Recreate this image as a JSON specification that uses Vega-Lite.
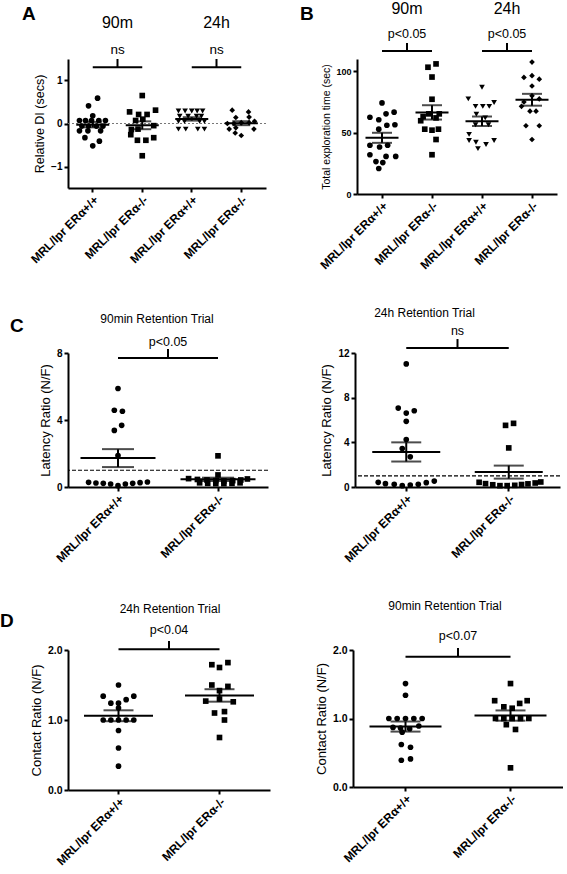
{
"$schema":"https://vega.github.io/schema/vega-lite/v6.json",
"background":"white",
"padding":{"left":0,"top":0,"right":0,"bottom":0},
"config":{"font":"Liberation Sans","view":{"stroke":null},
 "axis":{"domainColor":"black","domainWidth":2,"tickColor":"black","tickWidth":2,"tickSize":4,"labelColor":"black","labelFontWeight":"bold","labelFontSize":10,"titleColor":"black","titleFontWeight":"normal","titleFontSize":12.5,"grid":false,"labelPadding":2,"titlePadding":4},
 "axisX":{"labelAngle":-45,"labelFontSize":12,"title":null},
 "text":{"color":"black","font":"Liberation Sans"}},
"datasets":{
"A":[
{"g":"90_wt","v":0.59,"s":0.8},{"g":"90_wt","v":0.41,"s":-0.7},{"g":"90_wt","v":0.18,"s":0},
{"g":"90_wt","v":0.07,"s":-2.2},{"g":"90_wt","v":0.07,"s":-1.2},{"g":"90_wt","v":0.07,"s":-0.2},{"g":"90_wt","v":0.07,"s":1},{"g":"90_wt","v":0.07,"s":2.1},
{"g":"90_wt","v":-0.06,"s":-1.8},{"g":"90_wt","v":-0.06,"s":-0.7},{"g":"90_wt","v":-0.06,"s":0.6},{"g":"90_wt","v":-0.06,"s":1.7},
{"g":"90_wt","v":-0.17,"s":-2.2},{"g":"90_wt","v":-0.17,"s":-0.8},{"g":"90_wt","v":-0.17,"s":1.3},
{"g":"90_wt","v":-0.33,"s":-1.3},{"g":"90_wt","v":-0.41,"s":1.1},{"g":"90_wt","v":-0.52,"s":0},
{"g":"90_ko","v":0.65,"s":0},{"g":"90_ko","v":0.27,"s":-2.1},{"g":"90_ko","v":0.31,"s":2.2},{"g":"90_ko","v":0.21,"s":-0.6},{"g":"90_ko","v":0.21,"s":0.8},
{"g":"90_ko","v":0.07,"s":-1.1},{"g":"90_ko","v":0.1,"s":0.1},{"g":"90_ko","v":-0.05,"s":1.9},{"g":"90_ko","v":-0.14,"s":-1.8},{"g":"90_ko","v":-0.13,"s":-0.7},
{"g":"90_ko","v":-0.26,"s":-1.9},{"g":"90_ko","v":-0.33,"s":1.9},{"g":"90_ko","v":-0.39,"s":-0.8},{"g":"90_ko","v":-0.39,"s":0.6},{"g":"90_ko","v":-0.75,"s":0},
{"g":"24_wt","v":0.29,"s":-2.2},{"g":"24_wt","v":0.29,"s":-1.1},{"g":"24_wt","v":0.29,"s":0},{"g":"24_wt","v":0.29,"s":0.9},{"g":"24_wt","v":0.29,"s":1.8},
{"g":"24_wt","v":0.17,"s":-2},{"g":"24_wt","v":0.17,"s":-0.6},{"g":"24_wt","v":0.17,"s":0.8},{"g":"24_wt","v":0.17,"s":1.6},
{"g":"24_wt","v":0.05,"s":-2.2},{"g":"24_wt","v":0.05,"s":-1.2},{"g":"24_wt","v":0.05,"s":1.3},{"g":"24_wt","v":0.05,"s":2.1},
{"g":"24_wt","v":-0.13,"s":-2.2},{"g":"24_wt","v":-0.13,"s":-1},{"g":"24_wt","v":-0.13,"s":1},{"g":"24_wt","v":-0.13,"s":2.1},
{"g":"24_ko","v":0.31,"s":-1.5},{"g":"24_ko","v":0.27,"s":1.2},{"g":"24_ko","v":0.14,"s":-0.9},{"g":"24_ko","v":0.15,"s":1.3},
{"g":"24_ko","v":0,"s":-2.3},{"g":"24_ko","v":0,"s":-1.2},{"g":"24_ko","v":0.02,"s":0},{"g":"24_ko","v":0.02,"s":1.3},{"g":"24_ko","v":0.05,"s":2.2},
{"g":"24_ko","v":-0.13,"s":-2},{"g":"24_ko","v":-0.1,"s":-0.9},{"g":"24_ko","v":-0.13,"s":2.1},{"g":"24_ko","v":-0.22,"s":-1},{"g":"24_ko","v":-0.28,"s":0}
],
"B":[
{"g":"90_wt","v":74.2,"s":0},{"g":"90_wt","v":62.5,"s":-1.5},{"g":"90_wt","v":60.5,"s":-0.4},{"g":"90_wt","v":65.3,"s":0.5},{"g":"90_wt","v":66.7,"s":1.5},
{"g":"90_wt","v":56,"s":0.6},{"g":"90_wt","v":56.4,"s":1.6},{"g":"90_wt","v":52.8,"s":-0.4},{"g":"90_wt","v":39.7,"s":-1.5},{"g":"90_wt","v":38.3,"s":-0.3},
{"g":"90_wt","v":39.7,"s":0.7},{"g":"90_wt","v":32,"s":-1.5},{"g":"90_wt","v":30.6,"s":0.5},{"g":"90_wt","v":30.6,"s":1.7},{"g":"90_wt","v":26.4,"s":-0.75},
{"g":"90_wt","v":25.6,"s":0.1},{"g":"90_wt","v":20.8,"s":-0.4},
{"g":"90_ko","v":103.3,"s":-0.5},{"g":"90_ko","v":106,"s":0.5},{"g":"90_ko","v":95.3,"s":0},{"g":"90_ko","v":77.2,"s":0},{"g":"90_ko","v":65.3,"s":-0.4},
{"g":"90_ko","v":65.3,"s":0.9},{"g":"90_ko","v":63,"s":-1.1},{"g":"90_ko","v":62,"s":0.5},{"g":"90_ko","v":59.7,"s":-1.4},{"g":"90_ko","v":52.8,"s":-0.9},
{"g":"90_ko","v":52.8,"s":0.8},{"g":"90_ko","v":52,"s":0},{"g":"90_ko","v":44.4,"s":0.5},{"g":"90_ko","v":32,"s":0},
{"g":"24_wt","v":87,"s":0},{"g":"24_wt","v":77.5,"s":-1.7},{"g":"24_wt","v":74.5,"s":1.5},{"g":"24_wt","v":71.4,"s":-0.8},{"g":"24_wt","v":71.4,"s":0.1},
{"g":"24_wt","v":71.4,"s":0.9},{"g":"24_wt","v":65,"s":-0.7},{"g":"24_wt","v":62,"s":0.4},{"g":"24_wt","v":56.4,"s":-0.8},{"g":"24_wt","v":56.4,"s":0.8},
{"g":"24_wt","v":48.6,"s":-1.6},{"g":"24_wt","v":43.6,"s":-1.6},{"g":"24_wt","v":42.2,"s":-0.75},{"g":"24_wt","v":40.3,"s":0.5},{"g":"24_wt","v":43.6,"s":1.5},
{"g":"24_wt","v":37,"s":-0.5},
{"g":"24_ko","v":107.5,"s":0},{"g":"24_ko","v":95,"s":-1},{"g":"24_ko","v":96.4,"s":0},{"g":"24_ko","v":93.6,"s":0.9},{"g":"24_ko","v":88,"s":0},
{"g":"24_ko","v":80,"s":0},{"g":"24_ko","v":77.5,"s":0.9},{"g":"24_ko","v":75,"s":-1},{"g":"24_ko","v":71.4,"s":-1.3},{"g":"24_ko","v":67.5,"s":-0.25},
{"g":"24_ko","v":67.5,"s":0.5},{"g":"24_ko","v":55.6,"s":-0.75},{"g":"24_ko","v":55.6,"s":0.9},{"g":"24_ko","v":44.4,"s":0}
],
"CL":[
{"g":"wt","v":5.88,"s":0},{"g":"wt","v":4.58,"s":-0.5},{"g":"wt","v":4.52,"s":0.6},{"g":"wt","v":3.68,"s":0.5},{"g":"wt","v":3.38,"s":-0.5},{"g":"wt","v":1.88,"s":0},
{"g":"wt","v":0.28,"s":-4},{"g":"wt","v":0.24,"s":-3},{"g":"wt","v":0.22,"s":-2},{"g":"wt","v":0.18,"s":-1},{"g":"wt","v":0.08,"s":0},{"g":"wt","v":0.18,"s":1},{"g":"wt","v":0.22,"s":2},{"g":"wt","v":0.26,"s":3},{"g":"wt","v":0.3,"s":4},
{"g":"ko","v":1.86,"s":0},{"g":"ko","v":0.72,"s":0},
{"g":"ko","v":0.5,"s":-4},{"g":"ko","v":0.45,"s":-2.8},{"g":"ko","v":0.42,"s":-1.5},{"g":"ko","v":0.38,"s":-0.3},{"g":"ko","v":0.36,"s":0.8},{"g":"ko","v":0.38,"s":2},{"g":"ko","v":0.42,"s":3.1},{"g":"ko","v":0.48,"s":4},
{"g":"ko","v":0.25,"s":-2.5},{"g":"ko","v":0.22,"s":-1.4},{"g":"ko","v":0.2,"s":-0.3},{"g":"ko","v":0.2,"s":0.8},{"g":"ko","v":0.22,"s":1.9},{"g":"ko","v":0.25,"s":3}
],
"CR":[
{"g":"wt","v":11.02,"s":0},{"g":"wt","v":7.07,"s":-1},{"g":"wt","v":6.62,"s":0},{"g":"wt","v":6.83,"s":1},{"g":"wt","v":5.88,"s":0},{"g":"wt","v":4.25,"s":0},{"g":"wt","v":3.44,"s":-0.5},{"g":"wt","v":2.7,"s":0.5},
{"g":"wt","v":0.42,"s":-3.5},{"g":"wt","v":0.3,"s":-2.6},{"g":"wt","v":0.24,"s":-1.5},{"g":"wt","v":0.12,"s":-0.5},{"g":"wt","v":0.18,"s":0.5},{"g":"wt","v":0.24,"s":1.5},{"g":"wt","v":0.39,"s":2.5},{"g":"wt","v":0.53,"s":3.5},
{"g":"ko","v":5.7,"s":0.6},{"g":"ko","v":5.52,"s":-0.4},{"g":"ko","v":3.5,"s":0},
{"g":"ko","v":0.42,"s":-3.7},{"g":"ko","v":0.3,"s":-2.9},{"g":"ko","v":0.2,"s":-2},{"g":"ko","v":0.12,"s":-1.1},{"g":"ko","v":0.12,"s":-0.2},{"g":"ko","v":0.15,"s":0.75},{"g":"ko","v":0.22,"s":1.6},{"g":"ko","v":0.28,"s":2.4},{"g":"ko","v":0.36,"s":3.3},{"g":"ko","v":0.45,"s":4}
],
"DL":[
{"g":"wt","v":1.5,"s":0},{"g":"wt","v":1.34,"s":-2},{"g":"wt","v":1.34,"s":2},{"g":"wt","v":1.29,"s":1},{"g":"wt","v":1.24,"s":-1},{"g":"wt","v":1.24,"s":0},{"g":"wt","v":1.17,"s":0},
{"g":"wt","v":1.0,"s":-2},{"g":"wt","v":1.0,"s":-1},{"g":"wt","v":1.0,"s":0},{"g":"wt","v":1.0,"s":1},{"g":"wt","v":1.0,"s":2},
{"g":"wt","v":0.85,"s":0},{"g":"wt","v":0.6,"s":0},{"g":"wt","v":0.34,"s":0},
{"g":"ko","v":1.82,"s":1.1},{"g":"ko","v":1.79,"s":-1},{"g":"ko","v":1.75,"s":0},{"g":"ko","v":1.5,"s":-1},{"g":"ko","v":1.48,"s":1.1},{"g":"ko","v":1.42,"s":0},
{"g":"ko","v":1.27,"s":-1.8},{"g":"ko","v":1.26,"s":1.8},{"g":"ko","v":1.3,"s":0},{"g":"ko","v":1.1,"s":-0.65},{"g":"ko","v":1.12,"s":0.65},{"g":"ko","v":1.0,"s":0.65},{"g":"ko","v":0.75,"s":0}
],
"DR":[
{"g":"wt","v":1.51,"s":0},{"g":"wt","v":1.34,"s":0},
{"g":"wt","v":1.0,"s":-2},{"g":"wt","v":1.0,"s":-1},{"g":"wt","v":1.0,"s":0},{"g":"wt","v":1.0,"s":1},{"g":"wt","v":1.0,"s":2},
{"g":"wt","v":0.87,"s":-1.5},{"g":"wt","v":0.86,"s":-0.6},{"g":"wt","v":0.85,"s":0.5},{"g":"wt","v":0.89,"s":1.6},{"g":"wt","v":0.8,"s":-0.4},
{"g":"wt","v":0.62,"s":-0.5},{"g":"wt","v":0.58,"s":0.6},{"g":"wt","v":0.39,"s":-0.5},{"g":"wt","v":0.41,"s":0.6},
{"g":"ko","v":1.51,"s":0},{"g":"ko","v":1.26,"s":-1.9},{"g":"ko","v":1.26,"s":2},{"g":"ko","v":1.17,"s":-0.8},{"g":"ko","v":1.15,"s":0.2},{"g":"ko","v":1.22,"s":1.1},
{"g":"ko","v":1.0,"s":-1.8},{"g":"ko","v":1.0,"s":-0.8},{"g":"ko","v":1.0,"s":0.2},{"g":"ko","v":1.0,"s":1.2},{"g":"ko","v":1.0,"s":2.2},
{"g":"ko","v":0.91,"s":-0.5},{"g":"ko","v":0.84,"s":0.6},{"g":"ko","v":0.28,"s":0}
]
},
"spacing":36,
"resolve":{"scale":{"x":"independent","y":"independent","xOffset":"independent","shape":"independent"}},
"vconcat":[
{"hconcat":[
 {"width":198,"height":129,
  "layer":[
   {"data":{"values":[{}]},"mark":{"type":"rule","color":"#777777","strokeDash":[2,2],"strokeWidth":1},"encoding":{"y":{"datum":0,"type":"quantitative"}}},
   {"data":{"name":"A"},"mark":{"type":"point","filled":true,"size":32,"opacity":1,"color":"black"},
    "encoding":{
     "x":{"field":"g","type":"nominal","scale":{"domain":["90_wt","90_ko","24_wt","24_ko"],"paddingInner":0,"paddingOuter":0},"axis":{"title":null,"labelExpr":"indexof(datum.value,'wt')>=0 ? 'MRL/lpr ERα+/+' : 'MRL/lpr ERα-/-'"}},
     "xOffset":{"field":"s","type":"quantitative","scale":{"domain":[-4.1,4.1],"range":[0,49.5]}},
     "y":{"field":"v","type":"quantitative","scale":{"domain":[-1.5,1.5],"nice":false,"zero":false},"axis":{"title":"Relative DI (secs)","values":[-1,0,1]}},
     "shape":{"field":"g","type":"nominal","scale":{"domain":["90_wt","90_ko","24_wt","24_ko"],"range":["circle","square","triangle-down","diamond"]},"legend":null}}},
   {"data":{"name":"A"},"mark":{"type":"errorbar","extent":"stderr","ticks":true,"size":18,"thickness":2,"color":"black"},"encoding":{"x":{"field":"g","type":"nominal"},"y":{"field":"v","type":"quantitative","title":"Relative DI (secs)"}}},
   {"data":{"name":"A"},"mark":{"type":"tick","size":33,"thickness":2,"color":"black"},"encoding":{"x":{"field":"g","type":"nominal"},"y":{"aggregate":"mean","field":"v","type":"quantitative","title":"Relative DI (secs)"}}},
   {"data":{"values":[{"k":"90","g":"90_wt"},{"k":"90","g":"90_ko"},{"k":"24","g":"24_wt"},{"k":"24","g":"24_ko"}]},
    "mark":{"type":"line","strokeWidth":2,"color":"black"},"encoding":{"x":{"field":"g","type":"nominal"},"y":{"datum":1.31},"detail":{"field":"k"}}},
   {"data":{"values":[{"g":"90_ko","t":"ns","grp":"90m"},{"g":"24_ko","t":"ns","grp":"24h"}]},
    "layer":[
     {"mark":{"type":"rule","strokeWidth":2,"color":"black"},"encoding":{"x":{"field":"g","type":"nominal"},"xOffset":{"datum":-4.1},"y":{"datum":1.31},"y2":{"datum":1.5}}},
     {"mark":{"type":"text","fontSize":13.5},"encoding":{"x":{"field":"g","type":"nominal"},"xOffset":{"datum":-4.1},"y":{"datum":1.71},"text":{"field":"t"}}},
     {"mark":{"type":"text","fontSize":16},"encoding":{"x":{"field":"g","type":"nominal"},"xOffset":{"datum":-4.1},"y":{"datum":2.34},"text":{"field":"grp"}}}
    ]},
   {"data":{"values":[{"g":"90_wt"}]},"mark":{"type":"text","text":"A","fontSize":19,"fontWeight":"bold","align":"left","dx":-46},"encoding":{"x":{"field":"g","type":"nominal"},"xOffset":{"datum":-4.1},"y":{"datum":2.55}}}
  ]},
 {"width":200,"height":135,
  "layer":[
   {"data":{"name":"B"},"mark":{"type":"point","filled":true,"size":32,"opacity":1,"color":"black"},
    "encoding":{
     "x":{"field":"g","type":"nominal","scale":{"domain":["90_wt","90_ko","24_wt","24_ko"],"paddingInner":0,"paddingOuter":0},"axis":{"title":null,"labelExpr":"indexof(datum.value,'wt')>=0 ? 'MRL/lpr ERα+/+' : 'MRL/lpr ERα-/-'"}},
     "xOffset":{"field":"s","type":"quantitative","scale":{"domain":[-3.1,3.1],"range":[0,50]}},
     "y":{"field":"v","type":"quantitative","scale":{"domain":[0,110],"nice":false},"axis":{"title":"Total exploration time (sec)","titleFontSize":10.5,"labelFontSize":9,"values":[0,25,50,75,100]}},
     "shape":{"field":"g","type":"nominal","scale":{"domain":["90_wt","90_ko","24_wt","24_ko"],"range":["circle","square","triangle-down","diamond"]},"legend":null}}},
   {"data":{"name":"B"},"mark":{"type":"errorbar","extent":"stderr","ticks":true,"size":20,"thickness":2,"color":"black"},"encoding":{"x":{"field":"g","type":"nominal"},"y":{"field":"v","type":"quantitative","title":"Total exploration time (sec)"}}},
   {"data":{"name":"B"},"mark":{"type":"tick","size":33,"thickness":2,"color":"black"},"encoding":{"x":{"field":"g","type":"nominal"},"y":{"aggregate":"mean","field":"v","type":"quantitative","title":"Total exploration time (sec)"}}},
   {"data":{"values":[{"k":"90","g":"90_wt"},{"k":"90","g":"90_ko"},{"k":"24","g":"24_wt"},{"k":"24","g":"24_ko"}]},
    "mark":{"type":"line","strokeWidth":2,"color":"black"},"encoding":{"x":{"field":"g","type":"nominal"},"y":{"datum":116.6},"detail":{"field":"k"}}},
   {"data":{"values":[{"g":"90_ko","t":"p<0.05","grp":"90m"},{"g":"24_ko","t":"p<0.05","grp":"24h"}]},
    "layer":[
     {"mark":{"type":"rule","strokeWidth":2,"color":"black"},"encoding":{"x":{"field":"g","type":"nominal"},"xOffset":{"datum":-3.1},"y":{"datum":116.6},"y2":{"datum":123}}},
     {"mark":{"type":"text","fontSize":12.5},"encoding":{"x":{"field":"g","type":"nominal"},"xOffset":{"datum":-3.1},"y":{"datum":130.7},"text":{"field":"t"}}},
     {"mark":{"type":"text","fontSize":16},"encoding":{"x":{"field":"g","type":"nominal"},"xOffset":{"datum":-3.1},"y":{"datum":151},"text":{"field":"grp"}}}
    ]},
   {"data":{"values":[{"g":"90_wt"}]},"mark":{"type":"text","text":"B","fontSize":19,"fontWeight":"bold","align":"left","dx":-57},"encoding":{"x":{"field":"g","type":"nominal"},"xOffset":{"datum":-3.1},"y":{"datum":147}}}
  ]}
 ],"bounds":"flush","spacing":91,"resolve":{"scale":{"x":"independent","y":"independent","xOffset":"independent","shape":"independent"}}},
{"hconcat":[
 {"width":200,"height":134,
  "layer":[
   {"data":{"values":[{}]},"mark":{"type":"rule","color":"black","strokeDash":[4,2],"strokeWidth":1.2},"encoding":{"y":{"datum":1,"type":"quantitative"}}},
   {"data":{"name":"CL"},"mark":{"type":"point","filled":true,"size":32,"opacity":1,"color":"black"},
    "encoding":{
     "x":{"field":"g","type":"nominal","scale":{"domain":["wt","ko"],"paddingInner":0,"paddingOuter":0},"axis":{"title":null,"labelExpr":"datum.value=='wt' ? 'MRL/lpr ERα+/+' : 'MRL/lpr ERα-/-'"}},
     "xOffset":{"field":"s","type":"quantitative","scale":{"domain":[-6.8,6.8],"range":[0,100]}},
     "y":{"field":"v","type":"quantitative","scale":{"domain":[0,8],"nice":false},"axis":{"title":"Latency Ratio (N/F)","titleFontSize":13,"values":[0,2,4,6,8]}},
     "shape":{"field":"g","type":"nominal","scale":{"domain":["wt","ko"],"range":["circle","square"]},"legend":null}}},
   {"data":{"name":"CL"},"mark":{"type":"errorbar","extent":"stderr","ticks":true,"size":32,"thickness":2,"color":"black"},"encoding":{"x":{"field":"g","type":"nominal"},"y":{"field":"v","type":"quantitative","title":"Latency Ratio (N/F)"}}},
   {"data":{"name":"CL"},"mark":{"type":"tick","size":75,"thickness":2,"color":"black"},"encoding":{"x":{"field":"g","type":"nominal"},"y":{"aggregate":"mean","field":"v","type":"quantitative","title":"Latency Ratio (N/F)"}}},
   {"data":{"values":[{"a":"wt","b":"ko","t":"p<0.05","ttl":"90min Retention Trial","L":"C"}]},
    "layer":[
     {"mark":{"type":"rule","strokeWidth":2,"color":"black"},"encoding":{"x":{"field":"a","type":"nominal","bandPosition":0.5},"x2":{"field":"b","bandPosition":0.5},"y":{"datum":7.7}}},
     {"mark":{"type":"rule","strokeWidth":2,"color":"black"},"encoding":{"x":{"field":"a","type":"nominal","bandPosition":1},"y":{"datum":7.7},"y2":{"datum":8.24}}},
     {"mark":{"type":"text","fontSize":12.5},"encoding":{"x":{"field":"a","type":"nominal","bandPosition":1},"y":{"datum":8.66},"text":{"field":"t"}}},
     {"mark":{"type":"text","fontSize":12,"dx":-11},"encoding":{"x":{"field":"a","type":"nominal","bandPosition":1},"y":{"datum":10.03},"text":{"field":"ttl"}}},
     {"mark":{"type":"text","fontSize":19,"fontWeight":"bold","align":"left","dx":-58},"encoding":{"x":{"field":"a","type":"nominal","bandPosition":0},"y":{"datum":9.6},"text":{"field":"L"}}}
    ]}
  ]},
 {"width":205,"height":134,
  "layer":[
   {"data":{"values":[{}]},"mark":{"type":"rule","color":"black","strokeDash":[4,2],"strokeWidth":1.2},"encoding":{"y":{"datum":1,"type":"quantitative"}}},
   {"data":{"name":"CR"},"mark":{"type":"point","filled":true,"size":32,"opacity":1,"color":"black"},
    "encoding":{
     "x":{"field":"g","type":"nominal","scale":{"domain":["wt","ko"],"paddingInner":0,"paddingOuter":0},"axis":{"title":null,"labelExpr":"datum.value=='wt' ? 'MRL/lpr ERα+/+' : 'MRL/lpr ERα-/-'"}},
     "xOffset":{"field":"s","type":"quantitative","scale":{"domain":[-6.4,6.4],"range":[0,102.5]}},
     "y":{"field":"v","type":"quantitative","scale":{"domain":[0,12],"nice":false},"axis":{"title":"Latency Ratio (N/F)","titleFontSize":13,"values":[0,2,4,6,8,10,12]}},
     "shape":{"field":"g","type":"nominal","scale":{"domain":["wt","ko"],"range":["circle","square"]},"legend":null}}},
   {"data":{"name":"CR"},"mark":{"type":"errorbar","extent":"stderr","ticks":true,"size":30,"thickness":2,"color":"black"},"encoding":{"x":{"field":"g","type":"nominal"},"y":{"field":"v","type":"quantitative","title":"Latency Ratio (N/F)"}}},
   {"data":{"name":"CR"},"mark":{"type":"tick","size":68,"thickness":2,"color":"black"},"encoding":{"x":{"field":"g","type":"nominal"},"y":{"aggregate":"mean","field":"v","type":"quantitative","title":"Latency Ratio (N/F)"}}},
   {"data":{"values":[{"a":"wt","b":"ko","t":"ns","ttl":"24h Retention Trial"}]},
    "layer":[
     {"mark":{"type":"rule","strokeWidth":2,"color":"black"},"encoding":{"x":{"field":"a","type":"nominal","bandPosition":0.5},"x2":{"field":"b","bandPosition":0.5},"y":{"datum":12.45}}},
     {"mark":{"type":"rule","strokeWidth":2,"color":"black"},"encoding":{"x":{"field":"a","type":"nominal","bandPosition":1},"y":{"datum":12.45},"y2":{"datum":13.25}}},
     {"mark":{"type":"text","fontSize":12.5},"encoding":{"x":{"field":"a","type":"nominal","bandPosition":1},"y":{"datum":13.97},"text":{"field":"t"}}},
     {"mark":{"type":"text","fontSize":12,"dx":-33},"encoding":{"x":{"field":"a","type":"nominal","bandPosition":1},"y":{"datum":15.58},"text":{"field":"ttl"}}}
    ]}
  ]}
 ],"bounds":"flush","spacing":87,"resolve":{"scale":{"x":"independent","y":"independent","xOffset":"independent","shape":"independent"}}},
{"hconcat":[
 {"width":202,"height":140,
  "layer":[
   {"data":{"name":"DL"},"mark":{"type":"point","filled":true,"size":32,"opacity":1,"color":"black"},
    "encoding":{
     "x":{"field":"g","type":"nominal","scale":{"domain":["wt","ko"],"paddingInner":0,"paddingOuter":0},"axis":{"title":null,"labelExpr":"datum.value=='wt' ? 'MRL/lpr ERα+/+' : 'MRL/lpr ERα-/-'"}},
     "xOffset":{"field":"s","type":"quantitative","scale":{"domain":[-6.6,6.6],"range":[0,101]}},
     "y":{"field":"v","type":"quantitative","scale":{"domain":[0,2],"nice":false},"axis":{"title":"Contact Ratio (N/F)","titleFontSize":13,"values":[0,0.5,1,1.5,2],"format":".1f","labelFontSize":10.5}},
     "shape":{"field":"g","type":"nominal","scale":{"domain":["wt","ko"],"range":["circle","square"]},"legend":null}}},
   {"data":{"name":"DL"},"mark":{"type":"errorbar","extent":"stderr","ticks":true,"size":30,"thickness":2,"color":"black"},"encoding":{"x":{"field":"g","type":"nominal"},"y":{"field":"v","type":"quantitative","title":"Contact Ratio (N/F)"}}},
   {"data":{"name":"DL"},"mark":{"type":"tick","size":69,"thickness":2,"color":"black"},"encoding":{"x":{"field":"g","type":"nominal"},"y":{"aggregate":"mean","field":"v","type":"quantitative","title":"Contact Ratio (N/F)"}}},
   {"data":{"values":[{"a":"wt","b":"ko","t":"p<0.04","ttl":"24h Retention Trial","L":"D"}]},
    "layer":[
     {"mark":{"type":"rule","strokeWidth":2,"color":"black"},"encoding":{"x":{"field":"a","type":"nominal","bandPosition":0.5},"x2":{"field":"b","bandPosition":0.5},"y":{"datum":2.01}}},
     {"mark":{"type":"rule","strokeWidth":2,"color":"black"},"encoding":{"x":{"field":"a","type":"nominal","bandPosition":1},"y":{"datum":2.01},"y2":{"datum":2.13}}},
     {"mark":{"type":"text","fontSize":12.5},"encoding":{"x":{"field":"a","type":"nominal","bandPosition":1},"y":{"datum":2.29},"text":{"field":"t"}}},
     {"mark":{"type":"text","fontSize":12,"dx":1},"encoding":{"x":{"field":"a","type":"nominal","bandPosition":1},"y":{"datum":2.59},"text":{"field":"ttl"}}},
     {"mark":{"type":"text","fontSize":19,"fontWeight":"bold","align":"left","dx":-68},"encoding":{"x":{"field":"a","type":"nominal","bandPosition":0},"y":{"datum":2.41},"text":{"field":"L"}}}
    ]}
  ]},
 {"width":210,"height":137,
  "layer":[
   {"data":{"name":"DR"},"mark":{"type":"point","filled":true,"size":32,"opacity":1,"color":"black"},
    "encoding":{
     "x":{"field":"g","type":"nominal","scale":{"domain":["wt","ko"],"paddingInner":0,"paddingOuter":0},"axis":{"title":null,"labelExpr":"datum.value=='wt' ? 'MRL/lpr ERα+/+' : 'MRL/lpr ERα-/-'"}},
     "xOffset":{"field":"s","type":"quantitative","scale":{"domain":[-6.3,6.3],"range":[0,105]}},
     "y":{"field":"v","type":"quantitative","scale":{"domain":[0,2],"nice":false},"axis":{"title":"Contact Ratio (N/F)","titleFontSize":13,"values":[0,0.5,1,1.5,2],"format":".1f","labelFontSize":10.5}},
     "shape":{"field":"g","type":"nominal","scale":{"domain":["wt","ko"],"range":["circle","square"]},"legend":null}}},
   {"data":{"name":"DR"},"mark":{"type":"errorbar","extent":"stderr","ticks":true,"size":30,"thickness":2,"color":"black"},"encoding":{"x":{"field":"g","type":"nominal"},"y":{"field":"v","type":"quantitative","title":"Contact Ratio (N/F)"}}},
   {"data":{"name":"DR"},"mark":{"type":"tick","size":72,"thickness":2,"color":"black"},"encoding":{"x":{"field":"g","type":"nominal"},"y":{"aggregate":"mean","field":"v","type":"quantitative","title":"Contact Ratio (N/F)"}}},
   {"data":{"values":[{"a":"wt","b":"ko","t":"p<0.07","ttl":"90min Retention Trial"}]},
    "layer":[
     {"mark":{"type":"rule","strokeWidth":2,"color":"black"},"encoding":{"x":{"field":"a","type":"nominal","bandPosition":0.5},"x2":{"field":"b","bandPosition":0.5},"y":{"datum":1.9}}},
     {"mark":{"type":"rule","strokeWidth":2,"color":"black"},"encoding":{"x":{"field":"a","type":"nominal","bandPosition":1},"y":{"datum":1.9},"y2":{"datum":2.03}}},
     {"mark":{"type":"text","fontSize":12.5},"encoding":{"x":{"field":"a","type":"nominal","bandPosition":1},"y":{"datum":2.2},"text":{"field":"t"}}},
     {"mark":{"type":"text","fontSize":12,"dx":-13},"encoding":{"x":{"field":"a","type":"nominal","bandPosition":1},"y":{"datum":2.64},"text":{"field":"ttl"}}}
    ]}
  ]}
 ],"bounds":"flush","spacing":83,"resolve":{"scale":{"x":"independent","y":"independent","xOffset":"independent","shape":"independent"}}}
]
}
